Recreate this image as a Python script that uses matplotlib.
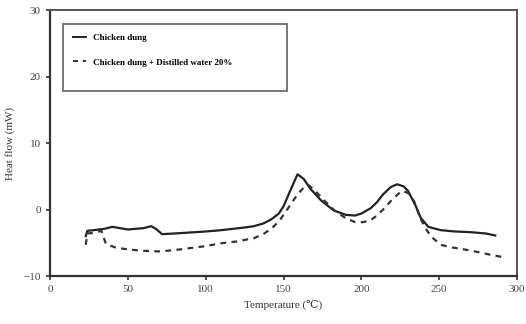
import matplotlib
matplotlib.use("Agg")
from matplotlib import pyplot as plt
from matplotlib.patches import Rectangle

# Chicken dung (solid)
temp_dry = [23, 24, 28, 35, 40, 50, 60, 65, 68, 72, 80, 100, 110, 125, 131, 137, 142, 147, 150, 155, 159, 163,
            167, 174, 182, 190, 196, 200, 206, 210, 214, 219, 223, 227, 230, 235, 238, 243, 251, 260, 270, 280, 286]
flow_dry = [-4.0, -3.2, -3.1, -2.9, -2.6, -3.0, -2.8, -2.5, -2.9, -3.7, -3.6, -3.3, -3.1, -2.7, -2.5, -2.1, -1.5,
            -0.6, 0.5, 3.2, 5.3, 4.6, 3.2, 1.4, -0.1, -0.8, -0.9, -0.6, 0.2, 1.1, 2.3, 3.4, 3.8, 3.5, 2.8, 0.5,
            -1.2, -2.6, -3.1, -3.3, -3.4, -3.6, -3.9]

# Chicken dung + Distilled water 20% (dashed)
temp_wet = [23, 24, 28, 33, 36, 42, 50, 60, 70, 80, 90, 100, 109, 120, 131, 137, 142, 147, 150, 155, 159, 163,
            166, 170, 176, 183, 190, 196, 201, 206, 210, 214, 219, 223, 226, 230, 234, 238, 242, 245, 251, 258,
            264, 275, 283, 292]
flow_wet = [-5.3, -3.6, -3.5, -3.2, -5.2, -5.7, -6.0, -6.2, -6.3, -6.1, -5.8, -5.5, -5.1, -4.8, -4.3, -3.7,
            -2.9, -1.8, -0.8, 0.9, 2.3, 3.3, 3.7, 2.9, 1.4, -0.2, -1.3, -1.9, -1.9, -1.6, -0.9, 0.0, 1.3, 2.2,
            2.8, 2.5, 1.2, -1.4, -3.1, -4.1, -5.3, -5.7, -5.9, -6.4, -6.8, -7.2]

x_ticks = [0, 50, 100, 150, 200, 250, 300]
y_ticks = [-10, 0, 10, 20, 30]

plt.rcParams["font.family"] = ["Liberation Serif", "DejaVu Serif"]

fig = plt.figure(figsize=(5.26, 3.24), dpi=100)
ax = fig.add_axes([0.095, 0.148, 0.888, 0.821])

ax.plot(temp_dry, flow_dry, color="#222222", linewidth=1.6, label="Chicken dung")
ax.plot(temp_wet, flow_wet, color="#333333", linewidth=1.6, linestyle=(0, (2.6, 2.4)),
        label="Chicken dung + Distilled water 20%")

ax.set_xlim(0, 300)
ax.set_ylim(-10, 30)
ax.set_xticks(x_ticks)
ax.set_yticks(y_ticks)
ax.tick_params(direction="out", length=3, width=1.2, labelsize=8, colors="#333333", labelcolor="#444444")

for side in ("left", "bottom"):
    ax.spines[side].set_linewidth(1.6)
    ax.spines[side].set_color("#333333")
for side in ("top", "right"):
    ax.spines[side].set_linewidth(1.4)
    ax.spines[side].set_color("#555555")

ax.set_xlabel("Temperature (\u2103)", fontsize=8, color="#333333", labelpad=4)
ax.set_ylabel("Heat flow (mW)", fontsize=8, color="#333333", labelpad=6)

# legend box is taller than its entries in the original
ax.add_patch(Rectangle((0.028, 0.695), 0.48, 0.252, transform=ax.transAxes, fill=False,
                       edgecolor="#777777", linewidth=1.4, zorder=4))
leg = ax.legend(loc="upper left", bbox_to_anchor=(0.028, 0.947), frameon=False,
                borderpad=0.6, handlelength=1.4, handletextpad=0.8, labelspacing=1.75,
                prop={"size": 6.5, "weight": "bold"})
for h in leg.get_lines():
    h.set_linewidth(1.4)

fig.savefig("out.png", dpi=100)
